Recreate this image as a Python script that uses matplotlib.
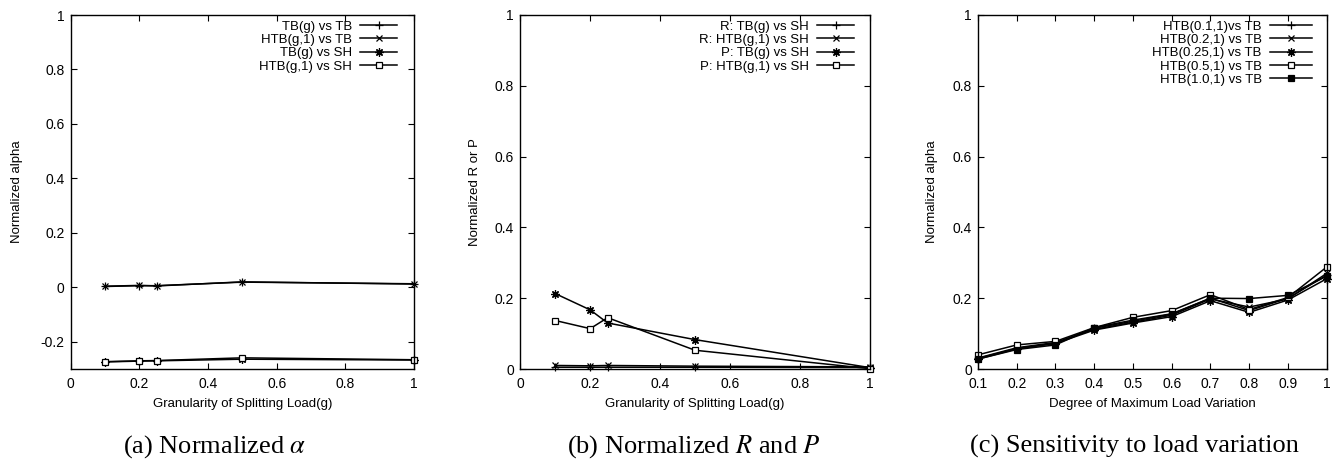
import matplotlib
matplotlib.use("Agg")
import matplotlib.pyplot as plt
from matplotlib.ticker import FixedLocator, FuncFormatter

plt.rcParams['font.family'] = ['Liberation Sans', 'DejaVu Sans']
plt.rcParams['axes.unicode_minus'] = False
plt.rcParams['mathtext.fontset'] = 'stix'

# ---------------- data ----------------
g = [0.1, 0.2, 0.25, 0.5, 1.0]

a_labels = ["TB(g) vs TB", "HTB(g,1) vs TB", "TB(g) vs SH", "HTB(g,1) vs SH"]
a_tb_tb = [0.003, 0.006, 0.006, 0.019, 0.013]
a_htb_tb = [0.004, 0.007, 0.005, 0.020, 0.012]
a_tb_sh = [-0.274, -0.271, -0.270, -0.264, -0.267]
a_htb_sh = [-0.273, -0.270, -0.269, -0.259, -0.266]

b_labels = ["R: TB(g) vs SH", "R: HTB(g,1) vs SH", "P: TB(g) vs SH", "P: HTB(g,1) vs SH"]
b_r_tb = [0.005, 0.005, 0.005, 0.005, 0.004]
b_r_htb = [0.010, 0.009, 0.010, 0.008, 0.006]
b_p_tb = [0.213, 0.167, 0.130, 0.083, 0.004]
b_p_htb = [0.137, 0.114, 0.145, 0.053, 0.001]

d = [0.1, 0.2, 0.3, 0.4, 0.5, 0.6, 0.7, 0.8, 0.9, 1.0]
c_labels = ["HTB(0.1,1)vs TB", "HTB(0.2,1) vs TB", "HTB(0.25,1) vs TB",
            "HTB(0.5,1) vs TB", "HTB(1.0,1) vs TB"]
c_g01 = [0.030, 0.058, 0.073, 0.115, 0.135, 0.155, 0.200, 0.165, 0.200, 0.265]
c_g02 = [0.031, 0.060, 0.075, 0.112, 0.132, 0.152, 0.198, 0.175, 0.198, 0.270]
c_g025 = [0.028, 0.057, 0.072, 0.110, 0.130, 0.148, 0.193, 0.160, 0.195, 0.255]
c_g05 = [0.040, 0.068, 0.078, 0.117, 0.146, 0.165, 0.210, 0.168, 0.202, 0.288]
c_g10 = [0.028, 0.055, 0.068, 0.117, 0.138, 0.156, 0.200, 0.199, 0.208, 0.262]

captions = ["(a) Normalized $\\alpha$", "(b) Normalized $R$ and $P$",
            "(c) Sensitivity to load variation"]

# ---------------- styling ----------------
STAR = (8, 2, 0)
styles = [
    dict(marker='+', ms=6, mew=0.9),
    dict(marker='x', ms=4.5, mew=0.9),
    dict(marker=STAR, ms=6, mew=0.9),
    dict(marker='s', ms=4, mew=0.9, mfc='white'),
    dict(marker='s', ms=5, mew=0.9, mfc='black'),
]

W, H = 1332, 461
fig = plt.figure(figsize=(W / 100, H / 100), dpi=100)

def px_axes(l, r, t, b):
    return fig.add_axes([l / W, 1 - b / H, (r - l) / W, (b - t) / H])

gfmt = FuncFormatter(lambda v, p: ('%g' % round(v, 6)))

def setup(ax, xlim, ylim, xticks, yticks, xlabel, ylabel, ylab_px, ax_l, ax_r):
    ax.set_xlim(*xlim)
    ax.set_ylim(*ylim)
    ax.xaxis.set_major_locator(FixedLocator(xticks))
    ax.yaxis.set_major_locator(FixedLocator(yticks))
    ax.xaxis.set_major_formatter(gfmt)
    ax.yaxis.set_major_formatter(gfmt)
    ax.tick_params(direction='in', length=4, width=0.8, top=True, right=True,
                   labelsize=10, colors='black')
    ax.tick_params(axis='x', pad=6)
    ax.tick_params(axis='y', pad=4.5)
    for s in ax.spines.values():
        s.set_linewidth(1.0)
        s.set_color('black')
    ax.set_xlabel(xlabel, fontsize=9.5)
    ax.set_ylabel(ylabel, fontsize=9.5, va='center')
    ax.xaxis.set_label_coords(0.5, -(398 - 369) / 354)
    ax.yaxis.set_label_coords(-(ax_l - ylab_px) / (ax_r - ax_l), 0.5)

def plot_series(ax, x, ys, labels):
    for y, lab, st in zip(ys, labels, styles):
        ax.plot(x, y, color='black', lw=1.1, mec='black', label=lab,
                clip_on=False, **st)

def legend(ax, ax_l, ax_r, right_px, hl):
    ax.legend(loc='upper right',
              bbox_to_anchor=((right_px - ax_l) / (ax_r - ax_l), (369 - 20.5) / 354),
              frameon=False, markerfirst=False, numpoints=1, fontsize=9.5,
              handlelength=hl, handletextpad=0.6, labelspacing=0.08,
              borderpad=0, borderaxespad=0)

# (a)
al, ar = 70.7, 414.0
ax1 = px_axes(al, ar, 15, 369)
plot_series(ax1, g, [a_tb_tb, a_htb_tb, a_tb_sh, a_htb_sh], a_labels)
setup(ax1, (0, 1), (-0.3, 1), [0, 0.2, 0.4, 0.6, 0.8, 1.0],
      [-0.2, 0, 0.2, 0.4, 0.6, 0.8, 1.0],
      "Granularity of Splitting Load(g)", "Normalized alpha", 17, al, ar)
legend(ax1, al, ar, 397, 2.8)

# (b)
bl, br = 520.3, 869.7
ax2 = px_axes(bl, br, 15, 369)
plot_series(ax2, g, [b_r_tb, b_r_htb, b_p_tb, b_p_htb], b_labels)
setup(ax2, (0, 1), (0, 1), [0, 0.2, 0.4, 0.6, 0.8, 1.0],
      [0, 0.2, 0.4, 0.6, 0.8, 1.0],
      "Granularity of Splitting Load(g)", "Normalized R or P", 474.7, bl, br)
legend(ax2, bl, br, 854, 2.8)

# (c)
cl, cr = 978.0, 1326.7
ax3 = px_axes(cl, cr, 15, 369)
plot_series(ax3, d, [c_g01, c_g02, c_g025, c_g05, c_g10], c_labels)
setup(ax3, (0.1, 1), (0, 1), d, [0, 0.2, 0.4, 0.6, 0.8, 1.0],
      "Degree of Maximum Load Variation", "Normalized alpha", 932.3, cl, cr)
legend(ax3, cl, cr, 1312, 3.2)

for cx, cap in zip([215, 694, 1134], captions):
    fig.text(cx / W, 1 - 453 / H, cap, ha='center', va='baseline',
             fontsize=19, family='Liberation Serif')

fig.savefig("out.png", dpi=100)
